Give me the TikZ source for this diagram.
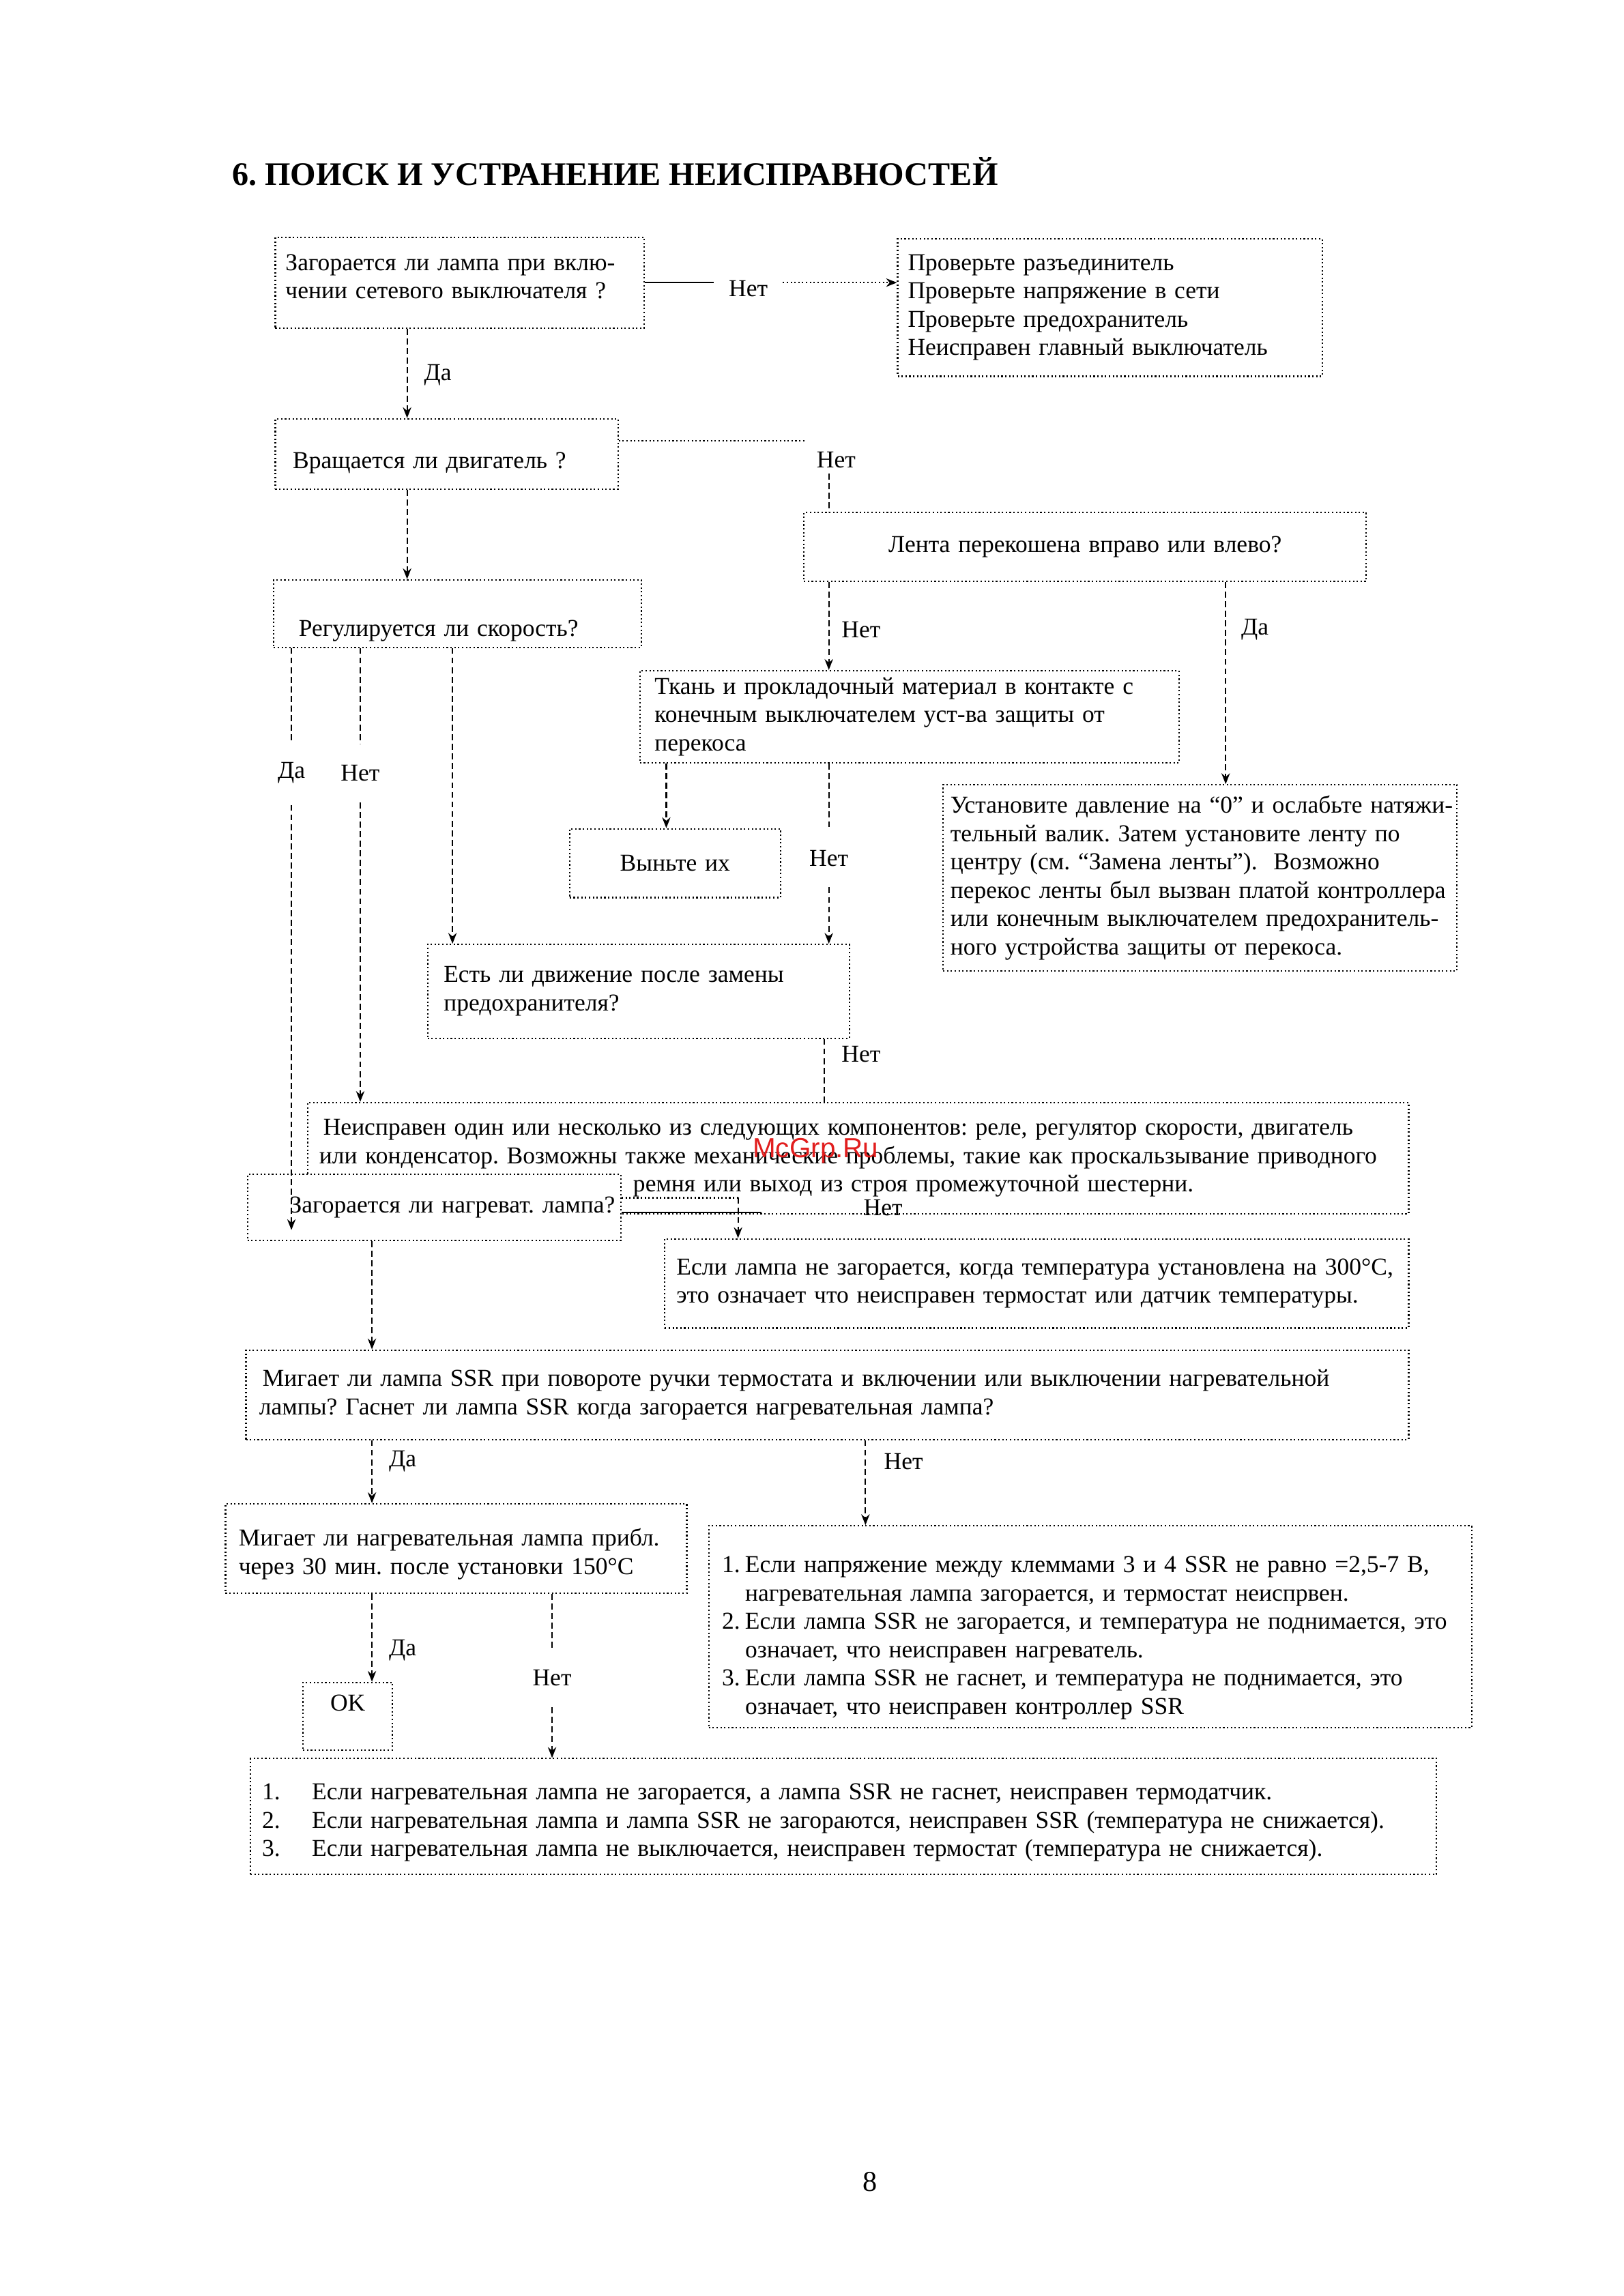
\documentclass[tikz,border=0pt]{standalone}
\usepackage{fontspec}
\setmainfont{Liberation Serif}
\newfontfamily\wmfont{Liberation Sans}
\usetikzlibrary{arrows.meta,calc}
\definecolor{wmred}{RGB}{225,30,30}
\newcommand\pxu{0.02145cm}
\newcommand\num[2]{\makebox[#1][l]{#2}}
\frenchspacing

\begin{document}
\begin{tikzpicture}[x=0.02145cm, y=-0.02145cm, >={Stealth[length=4.5pt,width=3.5pt]},
    font=\fontsize{10.1}{11.8}\selectfont, line width=0.6pt,
    box/.style n args={3}{draw, densely dotted, minimum width=#1*\pxu, minimum height=#2*\pxu,
      text width=(#1-2*#3)*\pxu, inner xsep=#3*\pxu, inner ysep=0pt, align=left},
    link/.style={dash pattern=on 2.5pt off 1.5pt},
    lbl/.style={inner sep=2pt},
    gaplbl/.style={inner xsep=2pt, inner ysep=0.3cm}]
    \useasboundingbox (0,0) rectangle (1109,1568);

    % заголовок
    \node[anchor=west, inner sep=0pt, font=\bfseries\fontsize{13.7}{16}\selectfont] (title) at (158,117) {6. ПОИСК И УСТРАНЕНИЕ НЕИСПРАВНОСТЕЙ};

    % блоки
    \node[box={252}{62}{7}, text depth=17pt] (b1) at (314,193) {Загорается ли лампа при вклю-\\чении сетевого выключателя ?};
    \node[box={290}{94}{7}] (b2) at (758,210) {Проверьте разъединитель\\Проверьте напряжение в сети\\Проверьте предохранитель\\Неисправен главный выключатель};
    \node[box={234}{48}{12}, text height=14pt] (b3) at (305,310) {Вращается ли двигатель ?};
    \node[box={384}{47}{7}, align=center] (b4) at (741,373.5) {Лента перекошена вправо или влево?};
    \node[box={251}{46}{17}, text height=21pt] (b5) at (312.5,419) {Регулируется ли скорость?};
    \node[box={368}{63}{10}] (b6) at (621,489.5) {Ткань и прокладочный материал в контакте с\\конечным выключателем уст-ва защиты от\\перекоса};
    \node[box={351}{127}{5}] (b7) at (819.5,599.5) {\mbox{Установите давление на “0" и ослабьте натяжи-}\\тельный валик. Затем установите ленту по\\центру (см. “Замена ленты”).\ \ Возможно\\\mbox{перекос ленты был вызван платой контроллера}\\\mbox{или конечным выключателем предохранитель-}\\ного устройства защиты от перекоса.};
    \node[box={144}{47}{7}, align=center] (b8) at (461,589.5) {Выньте их};
    \node[box={288}{64}{11}] (b9) at (436,677) {Есть ли движение после замены\\предохранителя?};
    \node[box={752}{76}{8}] (b10) at (586,791) {\hspace*{0.06cm}Неисправен один или несколько из следующих компонентов: реле, регулятор скорости, двигатель\\\mbox{или конденсатор. Возможны также механические проблемы, такие как проскальзывание приводного}\\\hspace*{4.6cm}ремня или выход из строя промежуточной шестерни.};
    \node[box={255}{45}{4}, align=right, fill=white] (b11) at (296.5,824.5) {\mbox{Загорается ли нагреват. лампа?}};
    \node[box={508}{61}{8}] (b12) at (708,876.5) {\mbox{Если лампа не загорается, когда температура установлена на 300°C,}\\это означает что неисправен термостат или датчик температуры.};
    \node[box={794}{61}{9}] (b13) at (565,952.5) {\hspace*{0.05cm}Мигает ли лампа SSR при повороте ручки термостата и включении или выключении нагревательной\\лампы? Гаснет ли лампа SSR когда загорается нагревательная лампа?};
    \node[box={315}{61}{9}, text height=12pt] (b14) at (311.5,1057.5) {\mbox{Мигает ли нагревательная лампа прибл.}\\через 30 мин. после установки 150°C};
    \node[box={521}{138}{9}, text height=16pt] (b15) at (744.5,1111) {\num{0.34cm}{1.}Если напряжение между клеммами 3 и 4 SSR не равно =2,5-7 В,\\\num{0.34cm}{}нагревательная лампа загорается, и термостат неиспрвен.\\\num{0.34cm}{2.}\mbox{Если лампа SSR не загорается, и температура не поднимается, это}\\\num{0.34cm}{}означает, что неисправен нагреватель.\\\num{0.34cm}{3.}Если лампа SSR не гаснет, и температура не поднимается, это\\\num{0.34cm}{}означает, что неисправен контроллер SSR};
    \node[box={61}{46}{4}, align=center, text depth=11pt] (b16) at (237.5,1172) {OK};
    \node[box={810}{79}{8}, text height=12pt] (b17) at (576,1240.5) {\num{0.73cm}{1.}Если нагревательная лампа не загорается, а лампа SSR не гаснет, неисправен термодатчик.\\\num{0.73cm}{2.}\mbox{Если нагревательная лампа и лампа SSR не загораются, неисправен SSR (температура не снижается).}\\\num{0.73cm}{3.}Если нагревательная лампа не выключается, неисправен термостат (температура не снижается).};

    % водяной знак
    \node[text=wmred, font=\wmfont\fontsize{11.5}{13}\selectfont] (wm) at (557,786) {McGrp.Ru};

    % вертикали для стрелок
    \coordinate (xa) at (278,0);
    \coordinate (xb) at (566,0);
    \coordinate (xc) at (837,0);
    \coordinate (xd) at (455,0);
    \coordinate (xe) at (309,0);
    \coordinate (xf) at (563,0);
    \coordinate (xg) at (254,0);
    \coordinate (xh) at (591,0);

    % b1 -> b2, b3
    \node[lbl, inner xsep=6pt] (l1) at (511,197) {Нет};
    \draw (b1.east) -- (b1.east -| l1.west);
    \draw[densely dotted, ->] (b1.east -| l1.east) -- (b1.east -| b2.west);
    \draw[link, ->] (b1.south -| xa) -- (b3.north -| xa);
    \node[lbl] (l2) at (299,256) {Да};

    % b3 -> b4, b5
    \coordinate (c3) at (550,301);
    \draw[densely dotted] (b3.east |- c3) -- (c3);
    \node[lbl] (l3) at (571,314) {Нет};
    \draw[link] (l3.south -| xb) -- (b4.north -| xb);
    \draw[link, ->] (b3.south -| xa) -- (b5.north -| xa);

    % b4 -> b6, b7
    \draw[link, ->] (b4.south -| xb) -- (b6.north -| xb);
    \node[lbl] (l4) at (588,430) {Нет};
    \draw[link, ->] (b4.south -| xc) -- (b7.north -| xc);
    \node[lbl] (l5) at (857,430) {Да};

    % b6 -> b8, b9
    \draw[link, ->] (b6.south -| xd) -- (b8.north -| xd);
    \node[gaplbl] (l6) at (566,586) {Нет};
    \draw[link] (b6.south -| l6) -- (l6.north);
    \draw[link, ->] (l6.south) -- (b9.north -| l6);

    % b5 -> b9, b10, b11
    \draw[link, ->] (b5.south -| xe) -- (b9.north -| xe);
    \node[gaplbl] (l7) at (199,528) {Да};
    \node[gaplbl] (l8) at (246,528) {Нет};
    \coordinate (e11) at (199,840);
    \draw[link] (b5.south -| l7) -- (l7.north);
    \draw[link, ->] (l7.south) -- (e11);
    \draw[link] (b5.south -| l8) -- (l8.north);
    \draw[link, ->] (l8.south) -- (b10.north -| l8);

    % b9 -> b10
    \draw[link] (b9.south -| xf) -- (b10.north -| xf);
    \node[lbl] (l9) at (588,720) {Нет};

    % b11 -> b12, b13
    \coordinate (c11) at (504,818);
    \coordinate (c12) at (520,828);
    \draw[densely dotted] (b11.east |- c11) -- (c11);
    \draw[link, ->] (c11) -- (b12.north -| c11);
    \draw (b11.east |- c12) -- (c12);
    \node[lbl] (l10) at (603,825) {Нет};
    \draw[link, ->] (b11.south -| xg) -- (b13.north -| xg);

    % b13 -> b14, b15
    \draw[link, ->] (b13.south -| xg) -- (b14.north -| xg);
    \node[lbl] (l11) at (275,998) {Да};
    \draw[link, ->] (b13.south -| xh) -- (b15.north -| xh);
    \node[lbl] (l12) at (617,998) {Нет};

    % b14 -> b16, b17
    \draw[link, ->] (b14.south -| xg) -- (b16.north -| xg);
    \node[lbl] (l13) at (275,1127) {Да};
    \node[gaplbl] (l14) at (377,1146) {Нет};
    \draw[link] (b14.south -| l14) -- (l14.north);
    \draw[link, ->] (l14.south) -- (b17.north -| l14);

    % номер страницы
    \node (pg) at (594,1490) {\fontsize{12}{14}\selectfont 8};
\end{tikzpicture}
\end{document}
